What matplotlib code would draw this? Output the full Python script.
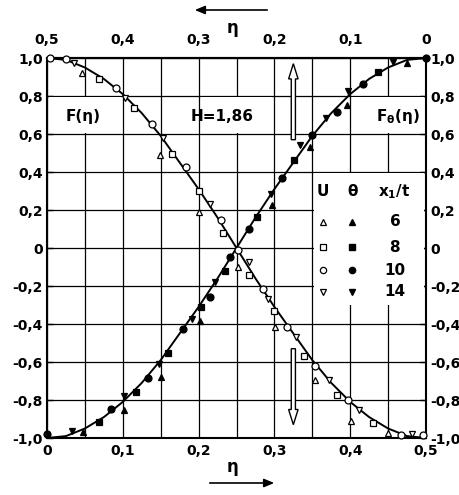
import numpy as np
import matplotlib
matplotlib.use("Agg")
import matplotlib.pyplot as plt
from matplotlib.patches import FancyArrow, Rectangle, FancyArrowPatch
from matplotlib import font_manager

names = {f.name for f in font_manager.fontManager.ttflist}
if 'Liberation Sans Narrow' in names:
    plt.rcParams['font.family'] = ['Liberation Sans Narrow', 'DejaVu Sans']
    FS = 12.5
else:
    plt.rcParams['font.family'] = ['DejaVu Sans']
    FS = 10
plt.rcParams['mathtext.fontset'] = 'custom'
plt.rcParams['mathtext.rm'] = plt.rcParams['font.family'][0]
plt.rcParams['mathtext.bf'] = plt.rcParams['font.family'][0] + ':bold'

# ---------------- data ----------------
eta_curve = [0.0, 0.025, 0.05, 0.075, 0.1, 0.125, 0.15, 0.175, 0.2, 0.225, 0.25,
             0.275, 0.3, 0.325, 0.35, 0.375, 0.4, 0.425, 0.45, 0.475, 0.5]
F_curve = [1.00, 0.99, 0.95, 0.89, 0.81, 0.71, 0.59, 0.45, 0.31, 0.16, 0.00,
           -0.16, -0.31, -0.45, -0.59, -0.71, -0.81, -0.89, -0.95, -0.99, -1.00]
Ftheta_curve = [-1.00, -0.99, -0.95, -0.89, -0.81, -0.71, -0.59, -0.45, -0.31, -0.16, 0.00,
                0.16, 0.31, 0.45, 0.59, 0.71, 0.81, 0.89, 0.95, 0.99, 1.00]

# U (open markers)
U6_x = [0.046, 0.149, 0.201, 0.252, 0.301, 0.353, 0.401, 0.450]
U6_y = [0.923, 0.489, 0.190, -0.098, -0.414, -0.695, -0.909, -0.975]
U8_x = [0.069, 0.115, 0.165, 0.200, 0.232, 0.266, 0.299, 0.339, 0.383, 0.430]
U8_y = [0.888, 0.735, 0.495, 0.300, 0.081, -0.142, -0.332, -0.568, -0.774, -0.923]
U10_x = [0.004, 0.025, 0.091, 0.138, 0.183, 0.230, 0.252, 0.285, 0.317, 0.354, 0.397, 0.467, 0.496]
U10_y = [1.000, 0.995, 0.840, 0.653, 0.425, 0.147, -0.010, -0.217, -0.414, -0.621, -0.800, -0.984, -0.984]
U14_x = [0.035, 0.103, 0.153, 0.215, 0.266, 0.292, 0.329, 0.372, 0.412, 0.481]
U14_y = [0.972, 0.791, 0.577, 0.232, -0.072, -0.270, -0.470, -0.695, -0.853, -0.979]

# theta (filled markers)
T6_x = [0.048, 0.101, 0.151, 0.202, 0.297, 0.347, 0.396, 0.475]
T6_y = [-0.967, -0.853, -0.677, -0.383, 0.226, 0.533, 0.753, 0.975]
T8_x = [0.069, 0.117, 0.160, 0.203, 0.235, 0.277, 0.326, 0.437]
T8_y = [-0.914, -0.756, -0.551, -0.309, -0.120, 0.162, 0.463, 0.928]
T10_x = [0.000, 0.084, 0.133, 0.180, 0.215, 0.241, 0.266, 0.310, 0.349, 0.382, 0.417, 0.500]
T10_y = [-0.979, -0.849, -0.686, -0.428, -0.260, -0.049, 0.098, 0.367, 0.595, 0.717, 0.862, 1.000]
T14_x = [0.033, 0.101, 0.148, 0.191, 0.221, 0.295, 0.334, 0.368, 0.397, 0.457]
T14_y = [-0.963, -0.777, -0.610, -0.375, -0.177, 0.284, 0.542, 0.683, 0.828, 0.980]

x_ticks = [0.0, 0.1, 0.2, 0.3, 0.4, 0.5]
x_labels = ["0", "0,1", "0,2", "0,3", "0,4", "0,5"]
top_labels = ["0,5", "0,4", "0,3", "0,2", "0,1", "0"]
y_ticks = [1.0, 0.8, 0.6, 0.4, 0.2, 0.0, -0.2, -0.4, -0.6, -0.8, -1.0]
y_labels = ["1,0", "0,8", "0,6", "0,4", "0,2", "0", "-0,2", "-0,4", "-0,6", "-0,8", "-1,0"]
legend_values = ["6", "8", "10", "14"]

# ---------------- figure ----------------
fig = plt.figure(figsize=(4.6, 4.95), dpi=100)
ax = fig.add_axes([47 / 460, 1 - 438 / 495, (426 - 47) / 460, (438 - 58) / 495])
ax.set_xlim(0, 0.5)
ax.set_ylim(-1, 1)

ax.set_xticks(x_ticks)
ax.set_xticklabels(x_labels)
ax.set_xticks(np.arange(0.05, 0.5, 0.1), minor=True)
ax.set_yticks(y_ticks)
ax.set_yticklabels(y_labels)
ax.set_axisbelow(True)
ax.grid(which='both', color='black', lw=0.9)

for s in ax.spines.values():
    s.set_linewidth(1.5)

ax.tick_params(axis='x', which='both', length=0, pad=4, labelsize=FS)
ax.tick_params(axis='y', which='both', direction='in', length=4, width=1,
               left=True, right=True, labelleft=True, labelright=True, pad=3, labelsize=FS)
for lab in ax.get_xticklabels() + ax.get_yticklabels():
    lab.set_fontweight('bold')

sec = ax.secondary_xaxis('top', functions=(lambda x: 0.5 - x, lambda x: 0.5 - x))
sec.set_xticks([0.5, 0.4, 0.3, 0.2, 0.1, 0.0])
sec.set_xticklabels(top_labels)
sec.tick_params(axis='x', length=0, pad=8, labelsize=FS)
for lab in sec.get_xticklabels():
    lab.set_fontweight('bold')
sec.spines['top'].set_linewidth(1.5)

# white boxes hiding grid
for (x0, y0, w, h) in [(0.003, 0.605, 0.094, 0.19), (0.203, 0.605, 0.094, 0.19),
                       (0.403, 0.605, 0.094, 0.19), (0.352, -0.30, 0.146, 0.695)]:
    ax.add_patch(Rectangle((x0, y0), w, h, fc='white', ec='none', zorder=1))

# curves
ax.plot(eta_curve, F_curve, color='black', lw=1.4, zorder=2)
ax.plot(eta_curve, Ftheta_curve, color='black', lw=1.4, zorder=2)

ms = 5
openkw = dict(ls='none', mfc='white', mec='black', mew=0.9, ms=ms, zorder=3, clip_on=False)
fillkw = dict(ls='none', mfc='black', mec='black', mew=0.9, ms=ms, zorder=3, clip_on=False)
ax.plot(U6_x, U6_y, marker='^', **openkw)
ax.plot(U8_x, U8_y, marker='s', **openkw)
ax.plot(U10_x, U10_y, marker='o', **openkw)
ax.plot(U14_x, U14_y, marker='v', **openkw)
ax.plot(T6_x, T6_y, marker='^', **fillkw)
ax.plot(T8_x, T8_y, marker='s', **fillkw)
ax.plot(T10_x, T10_y, marker='o', **fillkw)
ax.plot(T14_x, T14_y, marker='v', **fillkw)

# block arrows
akw = dict(width=0.0055, head_width=0.0125, head_length=0.08, length_includes_head=True,
           fc='white', ec='black', lw=1.0, zorder=4)
ax.add_patch(FancyArrow(0.325, 0.57, 0, 0.40, **akw))
ax.add_patch(FancyArrow(0.325, -0.53, 0, -0.40, **akw))

# labels inside
tkw = dict(fontsize=FS + 1, fontweight='bold', ha='center', va='center', zorder=5)
ax.text(0.047, 0.69, "F(η)", **tkw)
ax.text(0.231, 0.69, "H=1,86", **tkw)
ax.text(0.463, 0.69, "F$_\\mathbf{θ}$(η)", **tkw)

# legend
ax.text(0.364, 0.296, "U", **tkw)
ax.text(0.403, 0.296, "θ", **tkw)
ax.text(0.458, 0.296, "x$_\\mathbf{1}$/t", **tkw)
row_y = [0.138, 0.004, -0.116, -0.230]
mk = ['^', 's', 'o', 'v']
for yy, m, v in zip(row_y, mk, legend_values):
    ax.plot([0.364], [yy], marker=m, ls='none', mfc='white', mec='black', mew=0.9, ms=4.5, zorder=5)
    ax.plot([0.403], [yy], marker=m, ls='none', mfc='black', mec='black', ms=4.5, zorder=5)
    ax.text(0.459, yy, v, **tkw)

# outer axis labels with arrows
fig.text(233 / 460, 1 - 28 / 495, "η", fontsize=FS + 2, fontweight='bold', ha='center', va='center')
fig.text(233 / 460, 1 - 467 / 495, "η", fontsize=FS + 2, fontweight='bold', ha='center', va='center')
fig.add_artist(FancyArrowPatch((270 / 460, 1 - 10 / 495), (192 / 460, 1 - 10 / 495),
               transform=fig.transFigure, arrowstyle='-|>,head_length=6,head_width=2.5',
               color='black', lw=1.2))
fig.add_artist(FancyArrowPatch((207 / 460, 1 - 483 / 495), (277 / 460, 1 - 483 / 495),
               transform=fig.transFigure, arrowstyle='-|>,head_length=6,head_width=2.5',
               color='black', lw=1.2))

fig.savefig("out.png", dpi=100)
